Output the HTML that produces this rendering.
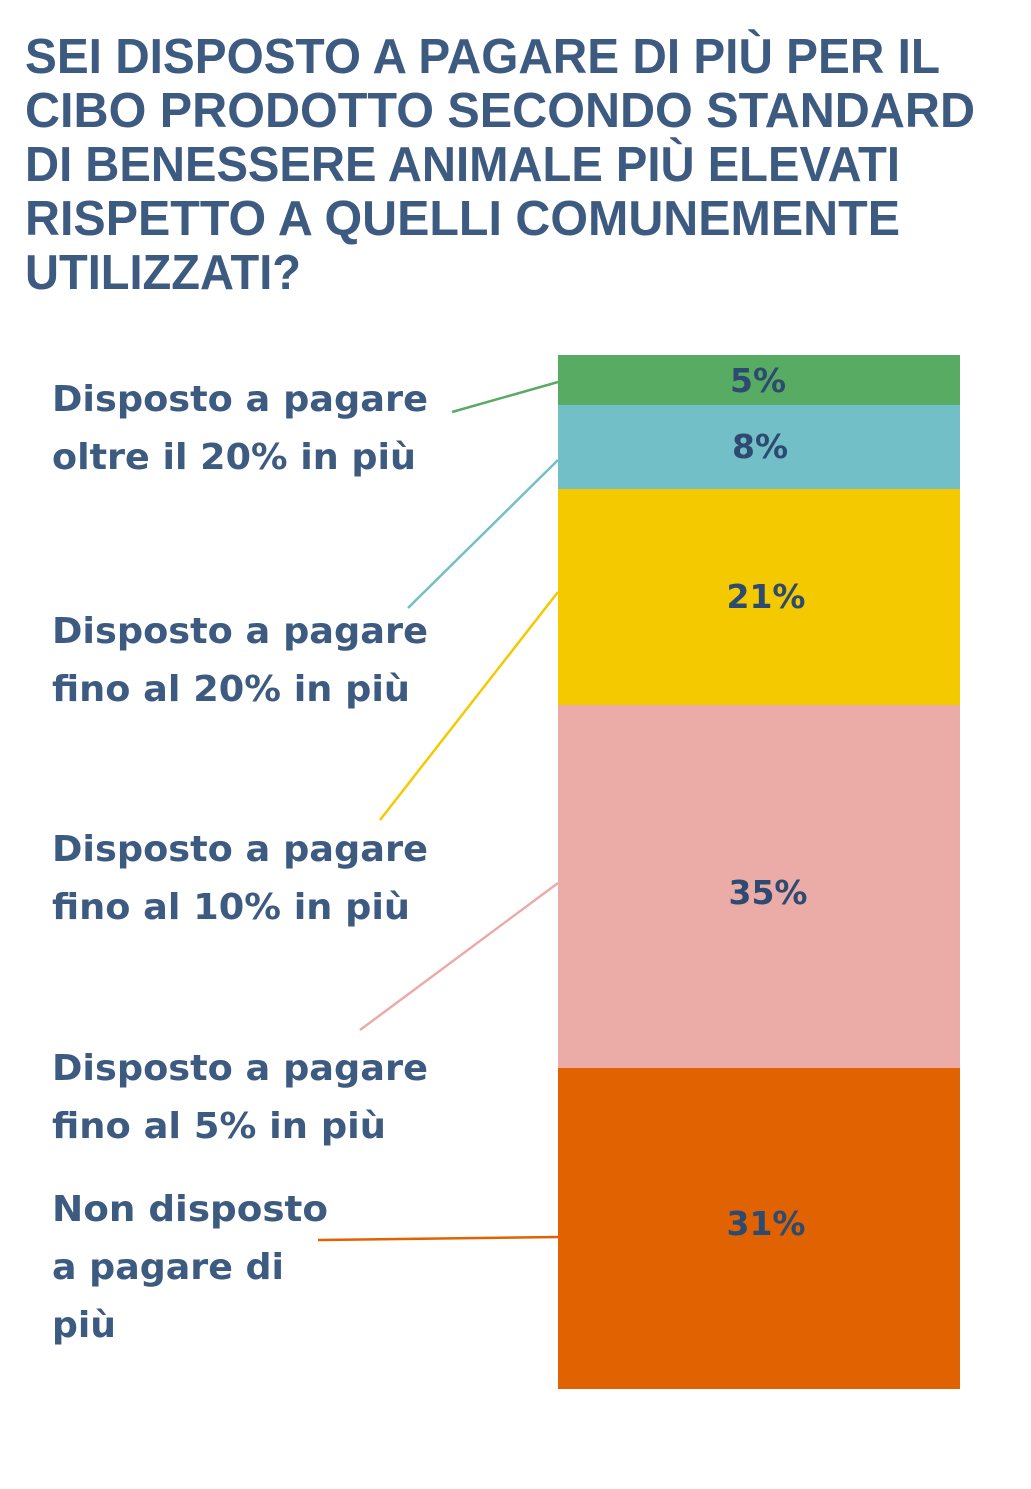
<!DOCTYPE html>
<html><head><meta charset="utf-8"><style>html,body{margin:0;padding:0;background:#fff}</style></head>
<body>
<svg width="1031" height="1489" xmlns="http://www.w3.org/2000/svg" style="display:block">
<g font-family="Liberation Sans, sans-serif" font-weight="bold" font-size="49" fill="#3d5a80">
<text x="25" y="73" textLength="915" lengthAdjust="spacingAndGlyphs">SEI DISPOSTO A PAGARE DI PIÙ PER IL</text>
<text x="25" y="127" textLength="950" lengthAdjust="spacingAndGlyphs">CIBO PRODOTTO SECONDO STANDARD</text>
<text x="25" y="181" textLength="875" lengthAdjust="spacingAndGlyphs">DI BENESSERE ANIMALE PIÙ ELEVATI</text>
<text x="25" y="235" textLength="875" lengthAdjust="spacingAndGlyphs">RISPETTO A QUELLI COMUNEMENTE</text>
<text x="25" y="289" textLength="276" lengthAdjust="spacingAndGlyphs">UTILIZZATI?</text>
</g>
<rect x="558" y="355" width="402" height="50" fill="#58ab62"/>
<rect x="558" y="405" width="402" height="84" fill="#73bfc8"/>
<rect x="558" y="489" width="402" height="216" fill="#f5c900"/>
<rect x="558" y="705" width="402" height="363" fill="#ebaca7"/>
<rect x="558" y="1068" width="402" height="321" fill="#e06200"/>
<g font-family="DejaVu Sans, sans-serif" font-weight="bold" font-size="33" fill="#2d4a70" text-anchor="middle">
<text x="758" y="392">5%</text>
<text x="760" y="458">8%</text>
<text x="766" y="608">21%</text>
<text x="768" y="904">35%</text>
<text x="766" y="1235">31%</text>
</g>
<g stroke-width="2.5" fill="none">
<line x1="452" y1="412" x2="558" y2="382" stroke="#58ab62"/>
<line x1="408" y1="608" x2="558" y2="460" stroke="#73bfc8"/>
<line x1="380" y1="820" x2="558" y2="592" stroke="#f5c900"/>
<line x1="360" y1="1030" x2="558" y2="883" stroke="#ebaca7"/>
<line x1="318" y1="1240" x2="558" y2="1237" stroke="#e06200"/>
</g>
<g font-family="DejaVu Sans, sans-serif" font-weight="bold" font-size="36" fill="#3d5a80">
<text x="52" y="411" textLength="376" lengthAdjust="spacingAndGlyphs">Disposto a pagare</text>
<text x="52" y="469" textLength="364" lengthAdjust="spacingAndGlyphs">oltre il 20% in più</text>
<text x="52" y="643" textLength="376" lengthAdjust="spacingAndGlyphs">Disposto a pagare</text>
<text x="52" y="701" textLength="358" lengthAdjust="spacingAndGlyphs">fino al 20% in più</text>
<text x="52" y="861" textLength="376" lengthAdjust="spacingAndGlyphs">Disposto a pagare</text>
<text x="52" y="919" textLength="358" lengthAdjust="spacingAndGlyphs">fino al 10% in più</text>
<text x="52" y="1080" textLength="376" lengthAdjust="spacingAndGlyphs">Disposto a pagare</text>
<text x="52" y="1138" textLength="334" lengthAdjust="spacingAndGlyphs">fino al 5% in più</text>
<text x="52" y="1221" textLength="276" lengthAdjust="spacingAndGlyphs">Non disposto</text>
<text x="52" y="1279" textLength="232" lengthAdjust="spacingAndGlyphs">a pagare di</text>
<text x="52" y="1337" textLength="64" lengthAdjust="spacingAndGlyphs">più</text>
</g>
</svg>
</body></html>
